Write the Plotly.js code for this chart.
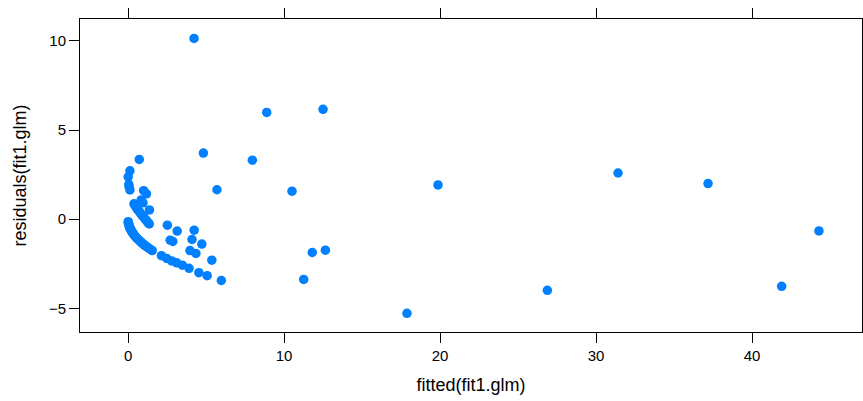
<!DOCTYPE html>
<html>
<head>
<meta charset="utf-8">
<script src="https://cdn.plot.ly/plotly-3.0.1.min.js"></script>
<style>html,body{margin:0;padding:0;background:#fff;}#chart{width:863px;height:401px;}</style>
</head>
<body>
<div id="chart"></div>
<script>
// fitted values (x) and residuals (y)
const fittedZeroChain = [0.01,0.02,0.03,0.05,0.07,0.09,0.12,0.15,0.18,0.22,0.26,0.3,0.35,0.4,0.46,0.52,0.58,0.65,0.72,0.8,0.88,0.96,1.05,1.14,1.24,1.34,1.45,1.55,
  2.14,2.48,2.8,3.12,3.48,3.91,4.54,5.07,5.98];
const residZeroChain = [-0.14,-0.2,-0.24,-0.32,-0.37,-0.42,-0.49,-0.55,-0.6,-0.66,-0.72,-0.77,-0.84,-0.89,-0.96,-1.02,-1.08,-1.14,-1.2,-1.26,-1.33,-1.39,-1.45,-1.51,-1.57,-1.64,-1.7,-1.76,
  -2.05,-2.2,-2.34,-2.45,-2.58,-2.76,-3.0,-3.17,-3.44];

const fittedOneChain = [0.12,0.01,0.05,0.07,0.12,0.38,0.45,0.52,0.58,0.65,0.72,0.8,0.88,0.96,1.04,1.12,1.2,1.28,1.36];
const residOneChain  = [2.71,2.37,1.95,1.8,1.64,0.86,0.76,0.67,0.58,0.5,0.42,0.33,0.24,0.15,0.07,-0.02,-0.1,-0.19,-0.27];

const fittedOther = [0.72,0.84,0.96,1.0,1.18,1.37,
  2.52,3.15,4.24,2.7,2.87,4.1,4.73,3.97,4.35,5.37,
  4.23,8.89,12.5,4.83,7.97,5.7,10.51,11.81,12.65,11.26,19.87,31.41,37.18,44.29,41.9,26.88,17.88];
const residOther  = [3.35,1.08,0.92,1.6,1.42,0.52,
  -0.34,-0.67,-0.62,-1.18,-1.25,-1.14,-1.4,-1.76,-1.92,-2.3,
  10.14,5.99,6.16,3.71,3.31,1.65,1.57,-1.87,-1.74,-3.38,1.92,2.59,2.0,-0.66,-3.77,-3.99,-5.28];

const xTicks = [0,10,20,30,40];
const yTicks = [-5,0,5,10];

const fitted = fittedZeroChain.concat(fittedOneChain, fittedOther);
const resid = residZeroChain.concat(residOneChain, residOther);

const trace = {
  x: fitted, y: resid, type: 'scatter', mode: 'markers',
  marker: {color: '#0080ff', size: 9.5, line: {width: 0}},
  hoverinfo: 'x+y'
};

const font = {family: '"Liberation Sans", Arial, Helvetica, sans-serif', color: '#000'};

const layout = {
  width: 863, height: 401,
  margin: {l: 80, r: 1, t: 19, b: 69, pad: 0},
  paper_bgcolor: '#fff', plot_bgcolor: '#fff',
  showlegend: false,
  font: Object.assign({size: 15}, font),
  xaxis: {
    range: [-3.08, 47.05], tickvals: xTicks, ticktext: xTicks.map(String),
    showgrid: false, zeroline: false,
    showline: true, linecolor: '#000', linewidth: 1, mirror: 'ticks',
    ticks: 'outside', ticklen: 10, tickwidth: 1, tickcolor: '#000',
    tickfont: Object.assign({size: 15}, font),
    title: {text: 'fitted(fit1.glm)', font: Object.assign({size: 18}, font), standoff: 15}
  },
  yaxis: {
    range: [-6.33, 11.23], tickvals: yTicks, ticktext: yTicks.map(v => v < 0 ? '\u2212' + Math.abs(v) : String(v)),
    showgrid: false, zeroline: false,
    showline: true, linecolor: '#000', linewidth: 1, mirror: true,
    ticks: 'outside', ticklen: 10, tickwidth: 1, tickcolor: '#000',
    tickfont: Object.assign({size: 15}, font),
    title: {text: 'residuals(fit1.glm)', font: Object.assign({size: 18}, font), standoff: 17}
  }
};

Plotly.newPlot('chart', [trace], layout, {displayModeBar: false, staticPlot: true});
</script>
</body>
</html>
